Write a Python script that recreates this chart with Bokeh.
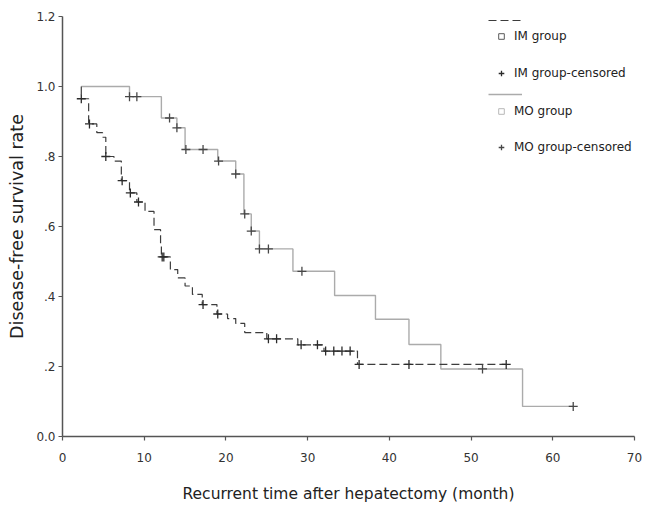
from bokeh.plotting import figure
from bokeh.models import ColumnDataSource, Range1d, FixedTicker, Legend, LegendItem
from bokeh.embed import file_html
from bokeh.resources import INLINE

FONT = "DejaVu Sans"

# ---------------- data ----------------
start_t = 2.3

# IM group: event times and survival after each event
im_event_t = [2.3, 3.2, 4.2, 4.9, 5.3, 6.3, 7.2, 8.2, 9.1, 10.1, 11.2, 12.0, 12.1,
              13.2, 14.1, 15.0, 15.9, 17.1, 18.9, 20.2, 21.2, 22.3, 25.0, 28.8,
              32.0, 36.1]
im_event_s = [0.965, 0.893, 0.868, 0.855, 0.800, 0.787, 0.731, 0.696, 0.670, 0.643,
              0.591, 0.545, 0.513, 0.477, 0.453, 0.430, 0.406, 0.377, 0.350, 0.337,
              0.323, 0.297, 0.279, 0.262, 0.244, 0.206]
im_censor_t = [2.3, 3.3, 5.3, 7.3, 8.3, 9.3, 12.2, 12.4, 17.2, 19.0, 25.2, 26.2,
               29.2, 31.2, 32.2, 33.2, 34.2, 35.2, 36.3, 42.4, 54.3]
im_censor_s = [0.965, 0.893, 0.800, 0.731, 0.696, 0.670, 0.513, 0.513, 0.377, 0.350,
               0.279, 0.279, 0.262, 0.262, 0.244, 0.244, 0.244, 0.244, 0.206, 0.206,
               0.206]
im_end = 54.3

# MO group
mo_event_t = [8.2, 12.1, 14.0, 15.0, 19.0, 21.2, 22.2, 23.1, 24.1, 28.2, 33.3, 38.3,
              42.4, 46.3, 56.3]
mo_event_s = [0.971, 0.910, 0.882, 0.820, 0.787, 0.750, 0.636, 0.587, 0.536, 0.472,
              0.403, 0.335, 0.263, 0.193, 0.086]
mo_censor_t = [8.2, 9.1, 13.1, 14.0, 15.1, 17.2, 19.1, 21.2, 22.3, 23.1, 24.1, 25.2,
               29.3, 51.4, 62.5]
mo_censor_s = [0.971, 0.971, 0.910, 0.882, 0.820, 0.820, 0.787, 0.750, 0.636, 0.587,
               0.536, 0.536, 0.472, 0.193, 0.086]
mo_end = 62.5

x_ticks = [0, 10, 20, 30, 40, 50, 60, 70]
y_ticks = [0.0, 0.2, 0.4, 0.6, 0.8, 1.0, 1.2]
y_tick_labels = ["0.0", ".2", ".4", ".6", ".8", "1.0", "1.2"]

legend_labels = ["IM group", "IM group-censored", "MO group", "MO group-censored"]
x_title = "Recurrent time after hepatectomy (month)"
y_title = "Disease-free survival rate"

NAN = float("nan")

# ---------------- figure ----------------
p = figure(width=646, height=509, output_backend="svg", toolbar_location=None,
           x_range=Range1d(0, 70), y_range=Range1d(0, 1.2),
           min_border_left=62, min_border_right=12, min_border_top=16,
           min_border_bottom=73)
p.outline_line_color = None
p.grid.visible = False
p.background_fill_color = "white"
p.border_fill_color = "white"

im_src = ColumnDataSource(dict(t=[start_t] + im_event_t + [im_end],
                               s=[1.0] + im_event_s + [im_event_s[-1]]))
mo_src = ColumnDataSource(dict(t=[start_t] + mo_event_t + [mo_end],
                               s=[1.0] + mo_event_s + [mo_event_s[-1]]))

mo_line = p.step("t", "s", source=mo_src, mode="after", line_color="#ababab",
                 line_width=1.4)
im_line = p.step("t", "s", source=im_src, mode="after", line_color="#3c3c3c",
                 line_width=1.2, line_dash="8 4")
mo_cens = p.scatter(mo_censor_t, mo_censor_s, marker="cross", size=9,
                    line_color="#474747", line_width=1.3)
im_cens = p.scatter(im_censor_t, im_censor_s, marker="cross", size=9,
                    line_color="#2b2b2b", line_width=1.3)
# legend-only square markers (no visible point on the plot)
im_sq = p.scatter("x", "y", source=ColumnDataSource(dict(x=[NAN], y=[NAN])),
                  marker="square", size=5, fill_color="white", line_color="#5a5a5a",
                  line_width=1)
mo_sq = p.scatter("x", "y", source=ColumnDataSource(dict(x=[NAN], y=[NAN])),
                  marker="square", size=5, fill_color="white", line_color="#b8b8b8",
                  line_width=1)

# ---------------- axes ----------------
p.xaxis.ticker = FixedTicker(ticks=x_ticks)
p.yaxis.ticker = FixedTicker(ticks=y_ticks)
p.yaxis.major_label_overrides = dict(zip(y_ticks, y_tick_labels))
p.xaxis.axis_label = x_title
p.yaxis.axis_label = y_title
for ax in (p.xaxis[0], p.yaxis[0]):
    ax.axis_line_color = "#555555"
    ax.axis_line_width = 1.5
    ax.major_tick_line_color = "#555555"
    ax.major_tick_line_width = 1.2
    ax.major_tick_in = 0
    ax.major_tick_out = 4
    ax.minor_tick_line_color = None
    ax.major_label_text_font = FONT
    ax.major_label_text_font_size = "12px"
    ax.major_label_text_color = "#333333"
    ax.axis_label_text_font = FONT
    ax.axis_label_text_font_style = "normal"
    ax.axis_label_text_color = "#222222"
p.xaxis.axis_label_text_font_size = "15.5px"
p.xaxis.major_label_standoff = 12
p.xaxis.axis_label_standoff = 20
p.yaxis.axis_label_text_font_size = "17.5px"
p.yaxis.major_label_standoff = 3
p.yaxis.axis_label_standoff = 6

# ---------------- legend (one row per Legend) ----------------
rows = [
    (" ", [im_line], 426, 406, 34),
    (legend_labels[0], [im_sq], 432, 390, 14),
    (legend_labels[1], [im_cens], 432, 353, 14),
    (" ", [mo_line], 426, 332, 34),
    (legend_labels[2], [mo_sq], 432, 315, 14),
    (legend_labels[3], [mo_cens], 432, 279, 14),
]
for label, rends, vx, vy, gw in rows:
    lg = Legend(items=[LegendItem(label=label, renderers=rends)], location=(vx, vy),
                padding=0, margin=0, spacing=0, glyph_height=20, label_height=20,
                glyph_width=gw, label_standoff=6, border_line_color=None,
                background_fill_alpha=0, label_text_font=FONT,
                label_text_font_size="12px", label_text_color="#222222")
    p.add_layout(lg)

open("out.html", "w").write(file_html(p, INLINE))
